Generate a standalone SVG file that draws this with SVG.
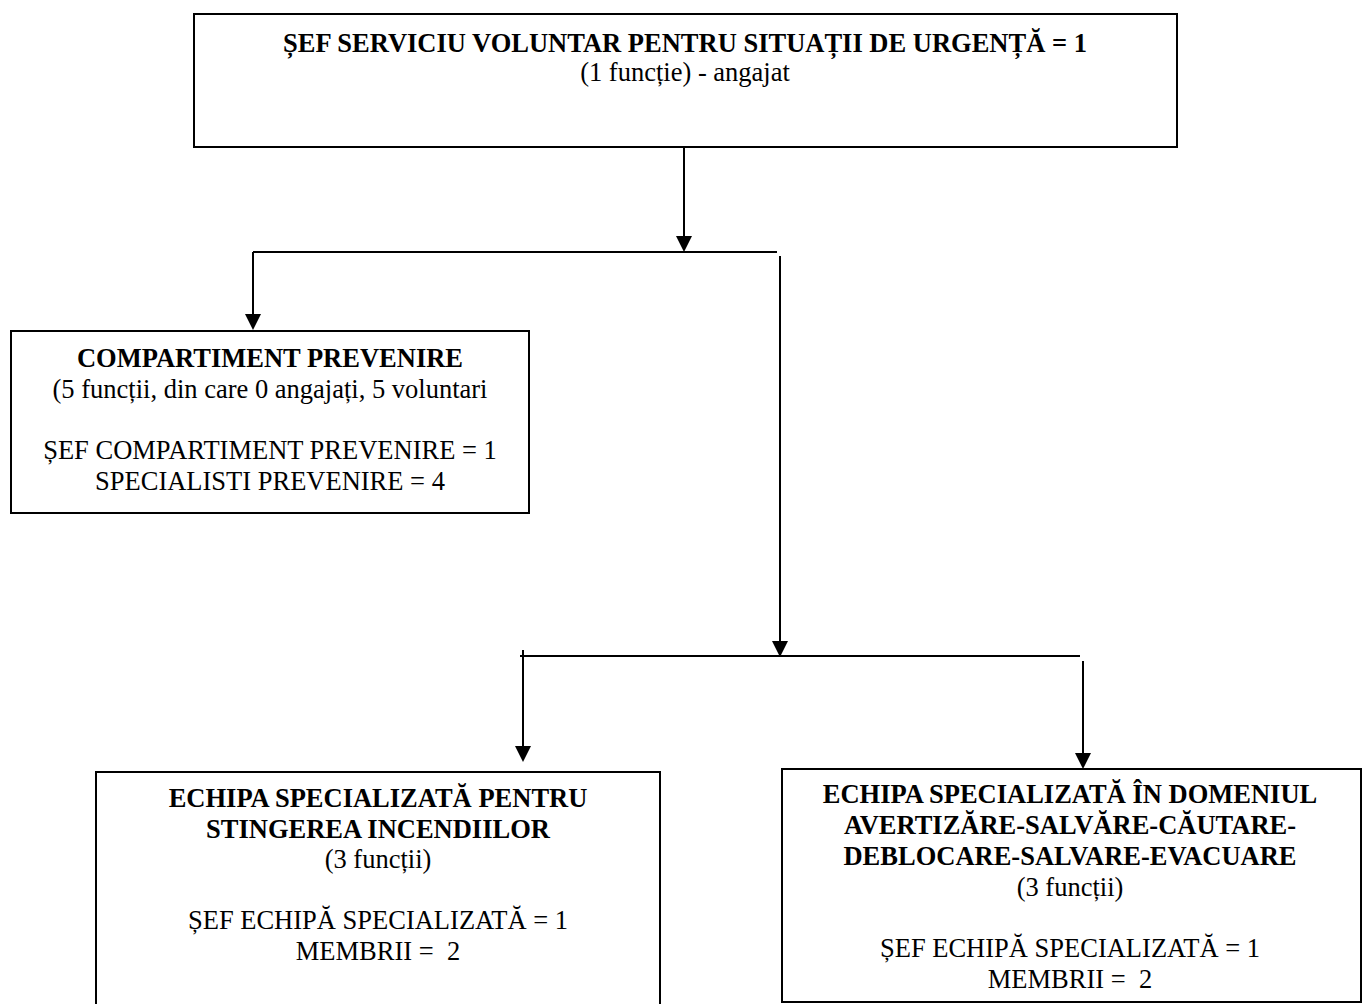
<svg xmlns="http://www.w3.org/2000/svg" width="1363" height="1004" viewBox="0 0 1363 1004">
<style>
.box{fill:#fff;stroke:#000;stroke-width:2}
.c{fill:none;stroke:#000;stroke-width:2}
text{font-family:"Liberation Serif","Times New Roman",serif;font-size:26.5px;text-anchor:middle;fill:#000;white-space:pre}
.b{font-weight:bold}
</style>
<defs>
<marker id="ah" viewBox="0 0 16 16" markerUnits="userSpaceOnUse" markerWidth="16" markerHeight="16" refX="13" refY="8" orient="auto">
<path d="M0,0 L16,8 L0,16 z" fill="#000"/>
</marker>
</defs>
<g id="connectors">
<line class="c" x1="684" y1="147" x2="684" y2="249" marker-end="url(#ah)"/>
<line class="c" x1="253" y1="252" x2="777" y2="252"/>
<line class="c" x1="253" y1="252" x2="253" y2="327" marker-end="url(#ah)"/>
<line class="c" x1="780" y1="256" x2="780" y2="654" marker-end="url(#ah)"/>
<line class="c" x1="520" y1="656" x2="1080" y2="656"/>
<line class="c" x1="523" y1="650" x2="523" y2="759" marker-end="url(#ah)"/>
<line class="c" x1="1083" y1="661" x2="1083" y2="766" marker-end="url(#ah)"/>
</g>
<g id="node-sef">
<rect class="box" x="194" y="14" width="983" height="133"/>
<text class="b" x="685" y="52">ȘEF SERVICIU VOLUNTAR PENTRU SITUAȚII DE URGENȚĂ = 1</text>
<text x="685" y="81">(1 funcție) - angajat</text>
</g>
<g id="node-compartiment">
<rect class="box" x="11" y="331" width="518" height="182"/>
<text class="b" x="270" y="367">COMPARTIMENT PREVENIRE</text>
<text x="270" y="398">(5 funcții, din care 0 angajați, 5 voluntari</text>
<text x="270" y="459">ȘEF COMPARTIMENT PREVENIRE = 1</text>
<text x="270" y="490">SPECIALISTI PREVENIRE = 4</text>
</g>
<g id="node-stingere">
<rect class="box" x="96" y="772" width="564" height="260"/>
<text class="b" x="378" y="807">ECHIPA SPECIALIZATĂ PENTRU</text>
<text class="b" x="378" y="838">STINGEREA INCENDIILOR</text>
<text x="378" y="868">(3 funcții)</text>
<text x="378" y="929">ȘEF ECHIPĂ SPECIALIZATĂ = 1</text>
<text x="378" y="960">MEMBRII =  2</text>
</g>
<g id="node-avertizare">
<rect class="box" x="782" y="769" width="579" height="233"/>
<text class="b" x="1070" y="803">ECHIPA SPECIALIZATĂ ÎN DOMENIUL</text>
<text class="b" x="1070" y="834">AVERTIZĂRE-SALVĂRE-CĂUTARE-</text>
<text class="b" x="1070" y="865">DEBLOCARE-SALVARE-EVACUARE</text>
<text x="1070" y="896">(3 funcții)</text>
<text x="1070" y="957">ȘEF ECHIPĂ SPECIALIZATĂ = 1</text>
<text x="1070" y="988">MEMBRII =  2</text>
</g>
</svg>
